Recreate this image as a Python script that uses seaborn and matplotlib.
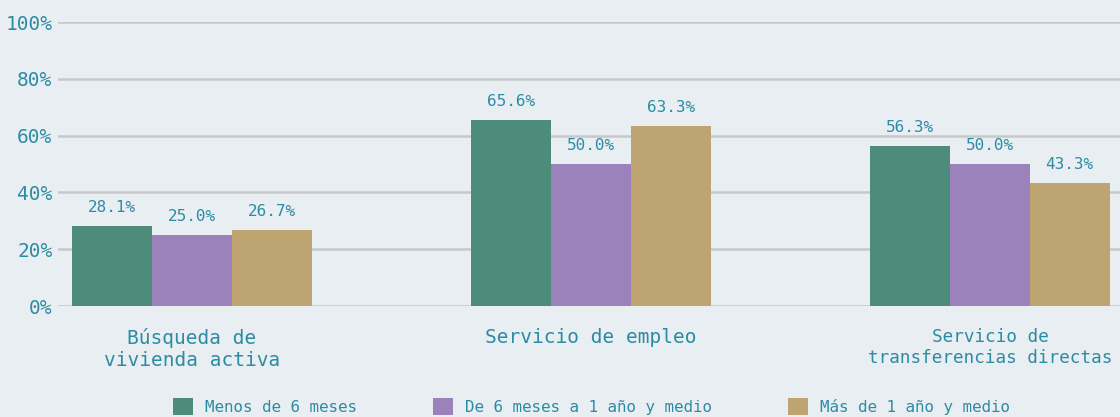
import numpy as np
import pandas as pd
import matplotlib
matplotlib.use("Agg")
import matplotlib.pyplot as plt
import seaborn as sns

categories = ["Búsqueda de\nvivienda activa", "Servicio de empleo",
              "Servicio de\ntransferencias directas"]
series = ["Menos de 6 meses", "De 6 meses a 1 año y medio", "Más de 1 año y medio"]
menos_6 = [28.1, 65.6, 56.3]
de_6_a_18 = [25.0, 50.0, 50.0]
mas_18 = [26.7, 63.3, 43.3]
colors = ["#4d8c7b", "#9b82bb", "#bea471"]
yticks = [0, 20, 40, 60, 80, 100]

bg = "#e9eef2"
txt = "#2b8ca3"

df = pd.DataFrame({
    "cat": categories * 3,
    "grupo": [s for s in series for _ in categories],
    "val": menos_6 + de_6_a_18 + mas_18,
})

sns.set_theme(style="white")
plt.rcParams["font.family"] = ["DejaVu Sans Mono", "DejaVu Sans"]

fig = plt.figure(figsize=(11.2, 4.17), dpi=100, facecolor=bg)
ax = fig.add_axes([58 / 1120, 1 - 306 / 417, 1 - 58 / 1120, 284 / 417])
ax.set_facecolor(bg)

sns.barplot(data=df, x="cat", y="val", hue="grupo", palette=colors,
            width=0.6, saturation=1, linewidth=0, edgecolor="none",
            ax=ax, legend=True)

for cont in ax.containers:
    ax.bar_label(cont, labels=[f"{v:.1f}%" for v in cont.datavalues],
                 padding=8, color=txt, fontsize=11.5)

ax.set_ylim(0, 100)
ax.set_xlim(-0.336, 2.326)
ax.set_yticks(yticks)
ax.set_yticklabels([f"{t}%" for t in yticks])
ax.yaxis.grid(True, color="#c6c8ca", linewidth=1.8)
ax.set_axisbelow(True)
for s in ax.spines.values():
    s.set_visible(False)
ax.tick_params(axis="y", length=0, pad=4, labelsize=14, labelcolor=txt)
ax.tick_params(axis="x", length=0, pad=16, labelsize=14, labelcolor=txt)
# the last label is set a little smaller in the reference
ax.get_xticklabels()[2].set_fontsize(12.7)
ax.set_xlabel("")
ax.set_ylabel("")

handles, labels = ax.get_legend_handles_labels()
ax.get_legend().remove()
fig.legend(handles, labels, loc="lower center", bbox_to_anchor=(0.528, -0.03),
           ncol=3, frameon=False, fontsize=11.4, labelcolor=txt,
           handlelength=1.26, handleheight=1.26, handletextpad=0.75,
           columnspacing=4.8)

fig.savefig("out.png", dpi=100, facecolor=bg)
